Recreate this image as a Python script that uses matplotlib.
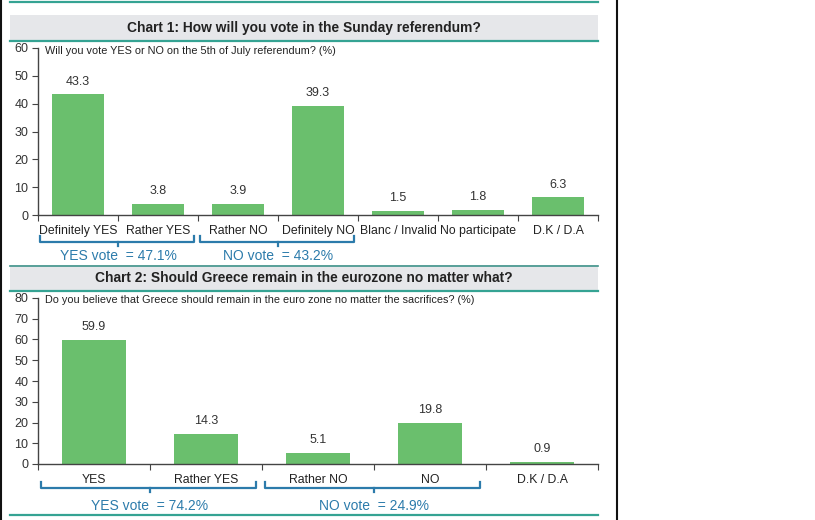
import matplotlib.pyplot as plt
from matplotlib.lines import Line2D
from matplotlib.patches import Rectangle
from matplotlib.transforms import blended_transform_factory

plt.rcParams['font.family'] = ['Liberation Sans', 'DejaVu Sans']

# Chart 1 data
vote_cats = ['Definitely YES', 'Rather YES', 'Rather NO', 'Definitely NO',
             'Blanc / Invalid', 'No participate', 'D.K / D.A']
vote_vals = [43.3, 3.8, 3.9, 39.3, 1.5, 1.8, 6.3]
vote_groups = [('YES vote  = 47.1%', 0, 1), ('NO vote  = 43.2%', 2, 3)]

# Chart 2 data
euro_cats = ['YES', 'Rather YES', 'Rather NO', 'NO', 'D.K / D.A']
euro_vals = [59.9, 14.3, 5.1, 19.8, 0.9]
euro_groups = [('YES vote  = 74.2%', 0, 1), ('NO vote  = 24.9%', 2, 3)]

W, H = 815, 520
bar_color = '#6abf6d'
teal = '#35a393'
band = '#e6e7ea'
blue = '#2c7bab'
text_col = '#333333'

fig = plt.figure(figsize=(W / 100, H / 100), dpi=100)


def fy(y):
    # pixel row -> figure fraction
    return 1 - y / H


def fx(x):
    return x / W


def hline(y, x0=10, x1=598, color=teal, lw=1.6):
    fig.add_artist(Line2D([fx(x0), fx(x1)], [fy(y), fy(y)], color=color, lw=lw))


def header(y0, y1, title):
    fig.add_artist(Rectangle((fx(10), fy(y1)), fx(598) - fx(10), fy(y0) - fy(y1),
                             transform=fig.transFigure, facecolor=band, edgecolor='none'))
    fig.text(fx(304), fy((y0 + y1) / 2), title, ha='center', va='center',
             fontsize=9.9, fontweight='bold', color='#222222')


def chart(top, bottom, cats, vals, ymax, subtitle, groups, br_y, txt_y, width, lab_fs):
    ax = fig.add_axes([fx(38), fy(bottom), fx(598) - fx(38), fy(top) - fy(bottom)])
    n = len(cats)
    x = list(range(n))
    ax.bar(x, vals, width=width, color=bar_color)
    for xi, v in zip(x, vals):
        ax.annotate(f'{v:.1f}', (xi, v), xytext=(0, 5), textcoords='offset points',
                    ha='center', va='bottom', fontsize=9, color=text_col)
    ax.set_xlim(-0.5, n - 0.5)
    ax.set_ylim(0, ymax)
    ax.set_yticks(range(0, ymax + 1, 10))
    ax.set_xticks([i - 0.5 for i in range(n + 1)])
    ax.set_xticklabels([])
    ax.set_xticks(x, minor=True)
    ax.set_xticklabels(cats, minor=True, fontsize=lab_fs, color='#222222')
    ax.tick_params(axis='x', which='minor', length=0, pad=7)
    ax.tick_params(axis='x', which='major', length=4, color='#444444', direction='out')
    ax.tick_params(axis='y', length=4, color='#444444', labelsize=9, labelcolor=text_col, pad=3)
    for s in ['top', 'right']:
        ax.spines[s].set_visible(False)
    for s in ['left', 'bottom']:
        ax.spines[s].set_color('#444444')
        ax.spines[s].set_linewidth(1)
    ax.text(0.013, 0.985, subtitle, transform=ax.transAxes, fontsize=7.8,
            va='center', ha='left', color='#222222')

    tr = blended_transform_factory(ax.transData, fig.transFigure)
    for label, i0, i1 in groups:
        x0 = i0 - 0.47
        x1 = i1 + 0.45
        xm = (i0 + i1) / 2
        yt, yb, yn = fy(br_y), fy(br_y + 6), fy(br_y + 10)
        ax.add_line(Line2D([x0, x0, x1, x1], [yt, yb, yb, yt], transform=tr,
                           color=blue, lw=1.6, clip_on=False))
        ax.add_line(Line2D([xm, xm], [yb, yn], transform=tr,
                           color=blue, lw=1.6, clip_on=False))
        ax.text(xm, fy(txt_y), label, transform=tr, ha='center', va='center',
                fontsize=10, color=blue, fontweight='medium')
    return ax


# Chart 1
hline(2)
header(15, 41, 'Chart 1: How will you vote in the Sunday referendum?')
hline(41)
chart(48, 215, vote_cats, vote_vals, 60,
      'Will you vote YES or NO on the 5th of July referendum? (%)',
      vote_groups, 236, 256, 0.66, 8.8)

# Chart 2
hline(266, lw=1.2, color='#3b8f86')
header(267, 290, 'Chart 2: Should Greece remain in the eurozone no matter what?')
hline(291)
chart(298, 464, euro_cats, euro_vals, 80,
      'Do you believe that Greece should remain in the euro zone no matter the sacrifices? (%)',
      euro_groups, 482, 506, 0.57, 8.8)
hline(515)

# Frame lines
fig.add_artist(Line2D([fx(617), fx(617)], [0, 1], color='#111111', lw=1.5))
fig.add_artist(Line2D([fx(1), fx(1)], [0, 1], color='#111111', lw=1.5))

fig.savefig('out.png', dpi=100)
